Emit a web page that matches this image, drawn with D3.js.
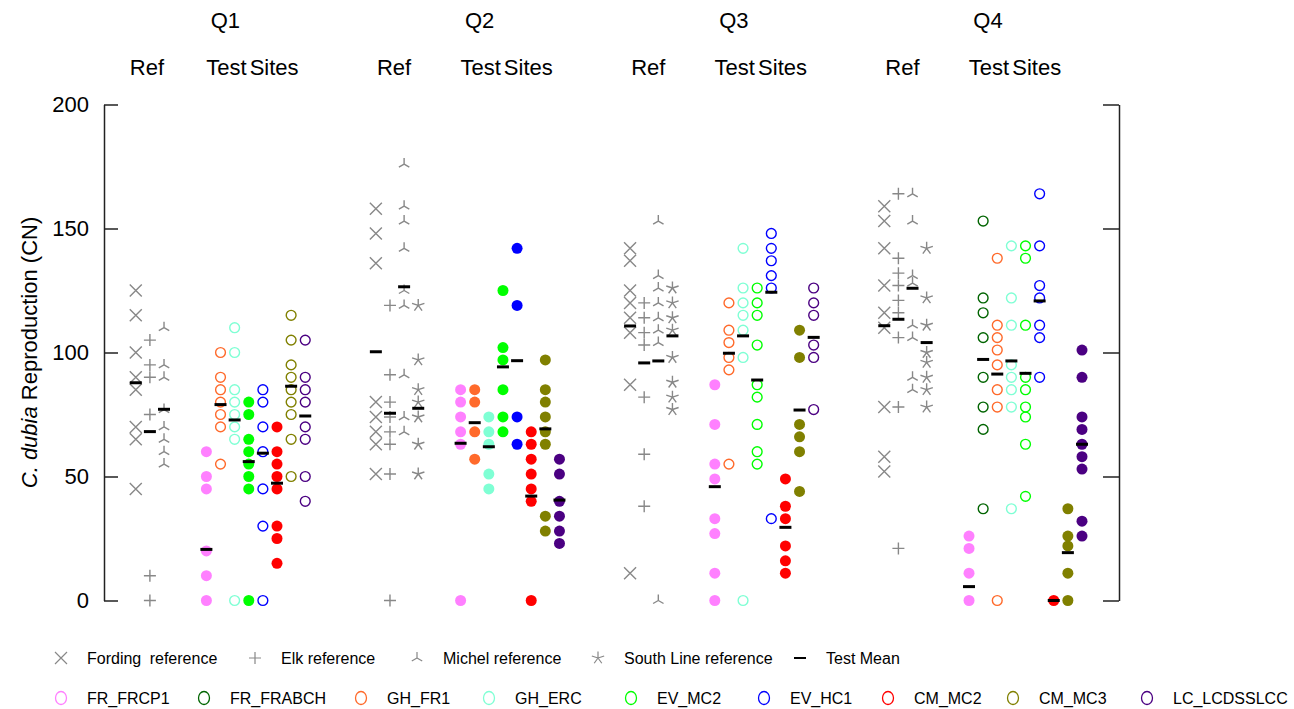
<!DOCTYPE html>
<html>
<head>
<meta charset="utf-8">
<script src="https://cdn.jsdelivr.net/npm/d3@7"></script>
<style>
  body { margin: 0; background: #fff; }
  svg { display: block; font-family: "Liberation Sans", Arial, sans-serif; }
</style>
</head>
<body>
<svg id="chart" width="1294" height="709"></svg>
<script>
// ---------- data ----------
const quarters = ["Q1", "Q2", "Q3", "Q4"];
const yTicks = [0, 50, 100, 150, 200];

// Reference sites: neonate counts per quarter (one array per quarter)
const fording   = [[125,115,100,90,85,70,65,45], [158,148,136,80,74,68,63,51], [142,137,125,120,114,108,87,11], [159,153,142,127,116,110,78,58,52]];
const elk       = [[105,95,90,75,10,0], [119,91,80,74,68,63,51,0], [120,114,108,103,82,59,38], [164,138,132,127,121,116,106,78,21]];
const michel    = [[110,95,90,77,70,65,60,55], [176,159,153,142,125,119,91,74,68], [153,131,126,120,114,109,104,0], [164,153,131,128,111,106,90,85]];
const southLine = [[], [119,97,85,80,74,63,51], [126,120,114,109,98,88,82,77], [142,122,111,100,96,90,85,78]];

const fordingMean   = [87.8, 100.3, 110.7, 110.8];
const elkMean       = [68.1, 75.5, 95.8, 113.4];
const michelMean    = [77.1, 126.5, 96.6, 125.9];
const southLineMean = [null, 77.5, 106.7, 104.0];

// Test sites: values per quarter, mean per quarter, solid = differs from reference
const FR_FRCP1    = [[60,50,45,20,10,0], [85,80,74,68,63,0], [87,71,55,49,33,27,11,0], [26,21,11,0]];
const FR_FRABCH   = [[], [], [], [153,122,116,106,90,78,69,37]];
const GH_FR1      = [[100,90,85,80,75,70,55], [85,80,68,57], [120,109,104,98,93,55], [138,111,106,101,95,85,78,0]];
const GH_ERC      = [[110,100,85,80,75,70,65,0], [74,68,63,51,45], [142,126,120,115,109,98,0], [143,122,111,95,90,85,78,37]];
const EV_MC2      = [[80,75,65,60,55,50,45,0], [125,102,97,85,74,68], [126,120,115,103,87,82,71,60,55], [143,138,111,90,85,78,74,63,42]];
const EV_HC1      = [[85,80,70,60,45,30,0], [142,119,74,63], [148,142,137,131,126,33], [164,143,127,122,111,106,90]];
const CM_MC2      = [[70,60,55,50,45,30,25,15], [68,63,57,51,45,40,0], [49,38,33,22,16,11], [0]];
const CM_MC3      = [[115,105,95,90,85,80,75,65,50], [97,85,80,74,68,63,34,28], [109,98,71,66,60,44], [37,26,22,11,0]];
const LC_LCDSSLCC = [[105,90,85,80,70,65,50,40], [57,51,40,34,28,23], [126,120,115,103,98,77], [101,90,74,69,63,58,53,32,26]];

const FR_FRCP1_mean    = [20.6, 63.4, 45.9, 5.6];
const FR_FRABCH_mean   = [null, null, null, 97.2];
const GH_FR1_mean      = [79.0, 71.7, 99.7, 91.3];
const GH_ERC_mean      = [72.8, 62.0, 106.7, 96.6];
const EV_MC2_mean      = [56.0, 94.2, 88.9, 91.6];
const EV_HC1_mean      = [59.4, 96.7, 124.3, 120.8];
const CM_MC2_mean      = [47.3, 42.1, 29.5, 0];
const CM_MC3_mean      = [86.4, 69.2, 76.8, 19.3];
const LC_LCDSSLCC_mean = [74.4, 40.5, 106.1, 63.0];

const FR_FRCP1_solid    = [true, true, true, true];
const FR_FRABCH_solid   = [false, false, false, false];
const GH_FR1_solid      = [false, true, false, false];
const GH_ERC_solid      = [false, true, false, false];
const EV_MC2_solid      = [true, true, false, false];
const EV_HC1_solid      = [false, true, false, false];
const CM_MC2_solid      = [true, true, true, true];
const CM_MC3_solid      = [false, true, true, true];
const LC_LCDSSLCC_solid = [false, true, false, true];

const refNames  = ["Fording reference", "Elk reference", "Michel reference", "South Line reference"];
const siteNames = ["FR_FRCP1", "FR_FRABCH", "GH_FR1", "GH_ERC", "EV_MC2", "EV_HC1", "CM_MC2", "CM_MC3", "LC_LCDSSLCC"];

// ---------- styling ----------
const siteColors = ["#FF80FF", "#006400", "#FF6A2B", "#7FFFD4", "#00FF00", "#0000FF", "#FF0000", "#808000", "#4B0082"];
const refShapes = ["cross", "plus", "tri", "star"];
const refColor = "#888";

const refSeries = [
  { name: refNames[0], values: fording,   mean: fordingMean,   shape: refShapes[0] },
  { name: refNames[1], values: elk,       mean: elkMean,       shape: refShapes[1] },
  { name: refNames[2], values: michel,    mean: michelMean,    shape: refShapes[2] },
  { name: refNames[3], values: southLine, mean: southLineMean, shape: refShapes[3] }
];
const siteValues = [FR_FRCP1, FR_FRABCH, GH_FR1, GH_ERC, EV_MC2, EV_HC1, CM_MC2, CM_MC3, LC_LCDSSLCC];
const siteMeans  = [FR_FRCP1_mean, FR_FRABCH_mean, GH_FR1_mean, GH_ERC_mean, EV_MC2_mean, EV_HC1_mean, CM_MC2_mean, CM_MC3_mean, LC_LCDSSLCC_mean];
const siteSolid  = [FR_FRCP1_solid, FR_FRABCH_solid, GH_FR1_solid, GH_ERC_solid, EV_MC2_solid, EV_HC1_solid, CM_MC2_solid, CM_MC3_solid, LC_LCDSSLCC_solid];
const sites = siteNames.map((name, i) => ({
  name, color: siteColors[i], values: siteValues[i], mean: siteMeans[i], solid: siteSolid[i]
}));

// ---------- column layout ----------
// each quarter spans 18 column slots; test sites start at slot 18q+5,
// reference columns end three slots before that
const SLOTS_PER_Q = 18;
const refSpan = [];
refSeries.forEach(r => r.slot = []);
sites.forEach(s => s.slot = []);
quarters.forEach((qn, q) => {
  const base = SLOTS_PER_Q * q + 5;
  const refs = refSeries.filter(r => r.values[q].length);
  refs.forEach((r, i) => r.slot[q] = base - 3 - (refs.length - 1 - i));
  refSpan[q] = [refs[0].slot[q], refs[refs.length - 1].slot[q]];
  const tests = sites.filter(s => s.values[q].length);
  tests.forEach((s, i) => s.slot[q] = base + i);
});

const svg = d3.select("#chart");
const x = d3.scaleLinear().domain([-2.25, 69.62]).range([104, 1119]);
const y = d3.scaleLinear().domain([0, 200]).range([600.5, 104.5]);

// ---------- axes ----------
const leftAxis = svg.append("g")
  .attr("transform", `translate(${x(-2.25)},0)`)
  .call(d3.axisLeft(y).tickValues(yTicks).tickSizeInner(-14).tickSizeOuter(0).tickPadding(15));
const rightAxis = svg.append("g")
  .attr("transform", `translate(${x(69.62)},0)`)
  .call(d3.axisRight(y).tickValues(yTicks).tickSizeInner(-16).tickSizeOuter(0).tickFormat(""));
[leftAxis, rightAxis].forEach(g => {
  g.select(".domain").attr("stroke", "#222").attr("stroke-width", 1.5);
  g.selectAll(".tick line").attr("stroke", "#222").attr("stroke-width", 1.5);
});
leftAxis.selectAll(".tick text")
  .attr("font-size", 22).attr("fill", "#000")
  .attr("font-family", "Liberation Sans, Arial, sans-serif");

// y-axis title
const yTitle = svg.append("text")
  .attr("transform", `translate(29,${y(100)}) rotate(-90)`)
  .attr("text-anchor", "middle")
  .attr("dominant-baseline", "central")
  .attr("font-size", 22);
yTitle.append("tspan").attr("font-style", "italic").text("C. dubia");
yTitle.append("tspan").text(" Reproduction (CN)");

// ---------- quarter headers ----------
quarters.forEach((qn, q) => {
  const bx = x(SLOTS_PER_Q * q + 5);
  const refCenter = (x(refSpan[q][0]) + x(refSpan[q][1])) / 2 - 3;
  svg.append("text").attr("x", bx + 19).attr("y", 20)
    .attr("text-anchor", "middle").attr("dominant-baseline", "central")
    .attr("font-size", 22).text(qn);
  svg.append("text").attr("x", refCenter).attr("y", 67)
    .attr("text-anchor", "middle").attr("dominant-baseline", "central")
    .attr("font-size", 22).text("Ref");
  svg.append("text").attr("x", bx + 46).attr("y", 67)
    .attr("text-anchor", "middle").attr("dominant-baseline", "central")
    .attr("font-size", 22).attr("word-spacing", -3).text("Test Sites");
});

// ---------- marker shapes ----------
function shapePath(shape, s) {
  if (shape === "cross") return `M${-s},${-s}L${s},${s}M${-s},${s}L${s},${-s}`;
  if (shape === "plus") return `M${-s},0H${s}M0,${-s}V${s}`;
  if (shape === "tri") {
    const a = s * 0.87, b = s * 0.5;
    return `M0,0V${-s}M0,0L${-a},${b}M0,0L${a},${b}`;
  }
  // five-armed asterisk
  let p = "";
  for (let k = 0; k < 5; k++) {
    const ang = -Math.PI / 2 + k * 2 * Math.PI / 5;
    p += `M0,0L${(s * Math.cos(ang)).toFixed(2)},${(s * Math.sin(ang)).toFixed(2)}`;
  }
  return p;
}
const shapeSize = { cross: 6, plus: 6, tri: 6, star: 6.5 };

const plot = svg.append("g");

// reference points
refSeries.forEach(r => {
  quarters.forEach((qn, q) => {
    if (!r.values[q].length) return;
    plot.append("g").selectAll("path")
      .data(r.values[q]).join("path")
      .attr("transform", d => `translate(${x(r.slot[q])},${y(d)})`)
      .attr("d", shapePath(r.shape, shapeSize[r.shape]))
      .attr("fill", "none").attr("stroke", refColor).attr("stroke-width", 1.4);
  });
});

// test site points
sites.forEach(s => {
  quarters.forEach((qn, q) => {
    if (!s.values[q].length) return;
    const solid = s.solid[q];
    plot.append("g").selectAll("circle")
      .data(s.values[q]).join("circle")
      .attr("cx", x(s.slot[q])).attr("cy", d => y(d))
      .attr("r", solid ? 5.5 : 4.9)
      .attr("fill", solid ? s.color : "none")
      .attr("stroke", solid ? "none" : s.color)
      .attr("stroke-width", 1.4);
  });
});

// means
const meanMarks = [];
refSeries.forEach(r => quarters.forEach((qn, q) => {
  if (r.mean[q] != null && r.values[q].length) meanMarks.push({ slot: r.slot[q], v: r.mean[q] });
}));
sites.forEach(s => quarters.forEach((qn, q) => {
  if (s.mean[q] != null && s.values[q].length) meanMarks.push({ slot: s.slot[q], v: s.mean[q] });
}));
plot.append("g").selectAll("line")
  .data(meanMarks).join("line")
  .attr("x1", d => x(d.slot) - 6).attr("x2", d => x(d.slot) + 6)
  .attr("y1", d => y(d.v)).attr("y2", d => y(d.v))
  .attr("stroke", "#000").attr("stroke-width", 3);

// ---------- legend ----------
const legendRow1X = [61, 255, 417, 598, 800];
const legendRow2X = [61, 204, 361, 489, 631, 764, 888, 1013, 1147];
const legend = svg.append("g").attr("font-size", 16);

refSeries.forEach((r, i) => {
  const g = legend.append("g").attr("transform", `translate(${legendRow1X[i]},658)`);
  g.append("path").attr("d", shapePath(r.shape, shapeSize[r.shape]))
    .attr("fill", "none").attr("stroke", refColor).attr("stroke-width", 1.2);
  g.append("text").attr("x", 26).attr("dominant-baseline", "central")
    .attr("word-spacing", i === 0 ? 4 : 0).text(r.name);
});
{
  const g = legend.append("g").attr("transform", `translate(${legendRow1X[4]},658)`);
  g.append("line").attr("x1", -6).attr("x2", 6).attr("stroke", "#000").attr("stroke-width", 2);
  g.append("text").attr("x", 26).attr("dominant-baseline", "central").text("Test Mean");
}
sites.forEach((s, i) => {
  const g = legend.append("g").attr("transform", `translate(${legendRow2X[i]},698)`);
  g.append("ellipse").attr("rx", 5.5).attr("ry", 6.5)
    .attr("fill", "none").attr("stroke", s.color).attr("stroke-width", 1.3);
  g.append("text").attr("x", 26).attr("dominant-baseline", "central").text(s.name);
});
</script>
</body>
</html>
